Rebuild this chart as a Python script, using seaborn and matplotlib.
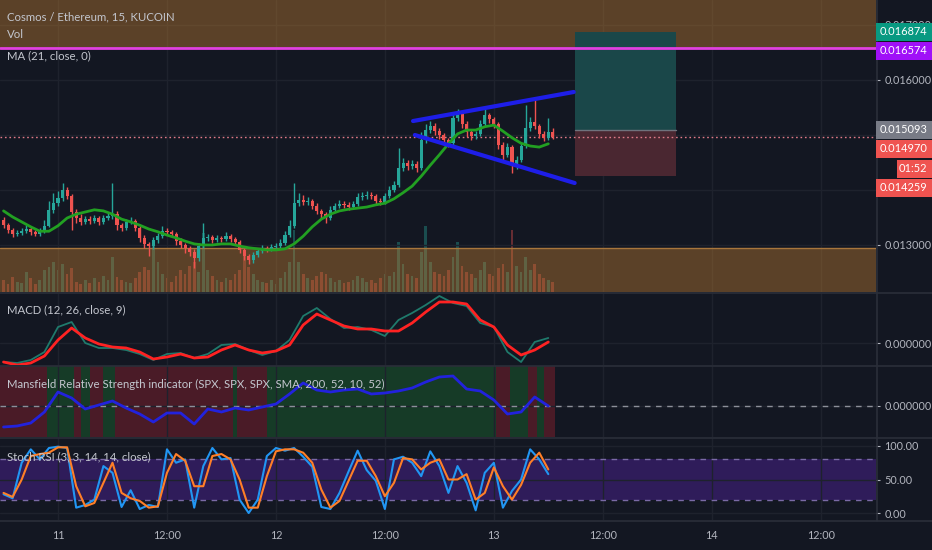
import numpy as np
import matplotlib
matplotlib.use("Agg")
import matplotlib.pyplot as plt
import seaborn as sns
from matplotlib.patches import Rectangle
from matplotlib.lines import Line2D
from matplotlib.ticker import FormatStrFormatter

# ---- data ------------------------------------------------------------
# hours are counted from 11 Jan 00:00, one candle every 30 min
first_open = 0.01345
closes = [0.01336, 0.01327, 0.01320, 0.01322, 0.01325, 0.01329, 0.01324, 0.01320, 0.01325, 0.01335,
          0.01364, 0.01376, 0.01385, 0.01400, 0.01389, 0.01360, 0.01349, 0.01342, 0.01347, 0.01344,
          0.01349, 0.01342, 0.01349, 0.01353, 0.01356, 0.01336, 0.01331, 0.01342, 0.01344, 0.01331,
          0.01313, 0.01302, 0.01298, 0.01309, 0.01316, 0.01325, 0.01324, 0.01320, 0.01307, 0.01300,
          0.01295, 0.01287, 0.01276, 0.01298, 0.01313, 0.01314, 0.01309, 0.01313, 0.01311, 0.01316,
          0.01311, 0.01305, 0.01291, 0.01280, 0.01273, 0.01282, 0.01289, 0.01295, 0.01293, 0.01296,
          0.01298, 0.01304, 0.01318, 0.01335, 0.01376, 0.01382, 0.01378, 0.01380, 0.01371, 0.01362,
          0.01356, 0.01349, 0.01364, 0.01371, 0.01375, 0.01373, 0.01369, 0.01375, 0.01387, 0.01389,
          0.01391, 0.01389, 0.01380, 0.01378, 0.01389, 0.01400, 0.01409, 0.01440, 0.01449, 0.01444,
          0.01447, 0.01440, 0.01491, 0.01509, 0.01516, 0.01507, 0.01500, 0.01491, 0.01485, 0.01531,
          0.01538, 0.01520, 0.01505, 0.01498, 0.01502, 0.01520, 0.01536, 0.01529, 0.01520, 0.01482,
          0.01464, 0.01478, 0.01445, 0.01455, 0.01480, 0.01513, 0.01524, 0.01516, 0.01502, 0.01494,
          0.01505, 0.01497]
highs = [0.01350, 0.01340, 0.01330, 0.01327, 0.01330, 0.01336, 0.01332, 0.01328, 0.01331, 0.01345,
         0.01380, 0.01395, 0.01398, 0.01412, 0.01405, 0.01393, 0.01365, 0.01356, 0.01352, 0.01353,
         0.01354, 0.01353, 0.01355, 0.01358, 0.01412, 0.01362, 0.01340, 0.01347, 0.01350, 0.01348,
         0.01335, 0.01318, 0.01306, 0.01314, 0.01322, 0.01334, 0.01330, 0.01328, 0.01324, 0.01312,
         0.01304, 0.01299, 0.01292, 0.01304, 0.01340, 0.01320, 0.01318, 0.01318, 0.01317, 0.01324,
         0.01320, 0.01315, 0.01309, 0.01295, 0.01284, 0.01287, 0.01294, 0.01300, 0.01299, 0.01301,
         0.01303, 0.01310, 0.01325, 0.01345, 0.01412, 0.01395, 0.01390, 0.01388, 0.01384, 0.01376,
         0.01366, 0.01360, 0.01370, 0.01377, 0.01381, 0.01380, 0.01378, 0.01380, 0.01394, 0.01396,
         0.01398, 0.01396, 0.01393, 0.01385, 0.01395, 0.01407, 0.01416, 0.01476, 0.01458, 0.01455,
         0.01454, 0.01452, 0.01505, 0.01520, 0.01525, 0.01522, 0.01512, 0.01504, 0.01495, 0.01540,
         0.01547, 0.01542, 0.01525, 0.01510, 0.01508, 0.01527, 0.01547, 0.01540, 0.01533, 0.01524,
         0.01487, 0.01485, 0.01482, 0.01462, 0.01486, 0.01555, 0.01533, 0.01567, 0.01520, 0.01508,
         0.01530, 0.01512]
lows = [0.01330, 0.01322, 0.01315, 0.01316, 0.01318, 0.01322, 0.01319, 0.01316, 0.01317, 0.01322,
        0.01332, 0.01358, 0.01370, 0.01380, 0.01384, 0.01327, 0.01340, 0.01336, 0.01338, 0.01338,
        0.01340, 0.01336, 0.01338, 0.01345, 0.01348, 0.01327, 0.01325, 0.01328, 0.01338, 0.01326,
        0.01305, 0.01295, 0.01280, 0.01293, 0.01304, 0.01312, 0.01318, 0.01314, 0.01300, 0.01294,
        0.01285, 0.01280, 0.01258, 0.01270, 0.01294, 0.01307, 0.01304, 0.01305, 0.01306, 0.01307,
        0.01306, 0.01300, 0.01285, 0.01273, 0.01265, 0.01268, 0.01278, 0.01285, 0.01288, 0.01289,
        0.01292, 0.01294, 0.01300, 0.01314, 0.01330, 0.01370, 0.01372, 0.01373, 0.01365, 0.01356,
        0.01349, 0.01340, 0.01345, 0.01360, 0.01367, 0.01368, 0.01364, 0.01365, 0.01371, 0.01382,
        0.01384, 0.01383, 0.01374, 0.01372, 0.01374, 0.01385, 0.01396, 0.01405, 0.01434, 0.01436,
        0.01438, 0.01432, 0.01436, 0.01485, 0.01503, 0.01500, 0.01493, 0.01482, 0.01478, 0.01480,
        0.01525, 0.01512, 0.01496, 0.01490, 0.01492, 0.01498, 0.01515, 0.01522, 0.01512, 0.01475,
        0.01455, 0.01460, 0.01430, 0.01438, 0.01450, 0.01476, 0.01508, 0.01510, 0.01495, 0.01489,
        0.01490, 0.01492]
volume = [12, 8, 15, 10, 9, 20, 14, 8, 12, 22,
          25, 30, 22, 28, 18, 24, 10, 8, 12, 9,
          14, 10, 16, 12, 35, 15, 12, 10, 9, 14,
          20, 25, 22, 49, 30, 18, 14, 10, 16, 22,
          18, 26, 30, 20, 59, 22, 16, 12, 10, 14,
          12, 18, 22, 36, 25, 18, 12, 10, 9, 12,
          8, 14, 20, 30, 62, 30, 18, 14, 12, 16,
          20, 18, 14, 10, 12, 9, 10, 12, 16, 14,
          10, 12, 9, 14, 18, 16, 20, 50, 28, 18,
          16, 14, 40, 66, 30, 20, 18, 16, 22, 35,
          50, 26, 20, 18, 14, 22, 30, 18, 16, 24,
          28, 20, 62, 26, 20, 35, 22, 28, 18, 14,
          12, 10]

# MA(21) and Stoch RSI sampled every hour
ma21 = [0.01362, 0.01351, 0.01342, 0.01333, 0.01325, 0.01325, 0.01335, 0.01349, 0.01356, 0.01360,
        0.01364, 0.01362, 0.01356, 0.01347, 0.01342, 0.01336, 0.01329, 0.01324, 0.01318, 0.01313,
        0.01307, 0.01302, 0.01300, 0.01300, 0.01302, 0.01302, 0.01298, 0.01295, 0.01293, 0.01291,
        0.01291, 0.01293, 0.01302, 0.01316, 0.01333, 0.01347, 0.01356, 0.01362, 0.01365, 0.01367,
        0.01369, 0.01373, 0.01376, 0.01384, 0.01395, 0.01407, 0.01425, 0.01445, 0.01464, 0.01484,
        0.01502, 0.01509, 0.01509, 0.01515, 0.01518, 0.01507, 0.01495, 0.01485, 0.01480, 0.01478,
        0.01484]
stoch_k = [28, 22, 75, 95, 80, 97, 99, 97, 8, 12, 20, 70, 60, 9, 34, 6, 12, 9, 95, 75,
           80, 8, 70, 97, 80, 82, 20, 0, 20, 85, 97, 93, 97, 84, 69, 9, 6, 30, 62, 93,
           64, 48, 6, 80, 84, 75, 55, 92, 70, 30, 70, 45, 4, 60, 75, 8, 33, 50, 95, 80, 58]
stoch_d = [30, 24, 50, 85, 88, 90, 98, 98, 40, 10, 15, 45, 75, 30, 22, 18, 8, 10, 60, 88,
           78, 40, 40, 85, 88, 80, 50, 8, 8, 55, 92, 95, 95, 90, 75, 35, 8, 18, 48, 78,
           78, 55, 25, 45, 82, 80, 65, 75, 80, 50, 50, 58, 20, 30, 68, 40, 20, 42, 75, 90, 65]

# MACD and Mansfield RS sampled every 1.5 hours
macd_line = [-38e-6, -40e-6, -34e-6, -18e-6, 32e-6, 42e-6, 0e-6, -10e-6, -10e-6, -14e-6,
             -22e-6, -34e-6, -22e-6, -20e-6, -30e-6, -22e-6, -4e-6, -2e-6, -14e-6, -24e-6,
             -16e-6, 6e-6, 54e-6, 70e-6, 48e-6, 30e-6, 32e-6, 26e-6, 14e-6, 46e-6,
             60e-6, 76e-6, 94e-6, 80e-6, 74e-6, 40e-6, 32e-6, -18e-6, -38e-6, 2e-6, 10e-6]
macd_signal = [-38e-6, -44e-6, -40e-6, -26e-6, 6e-6, 30e-6, 10e-6, -2e-6, -8e-6, -10e-6,
               -18e-6, -32e-6, -28e-6, -22e-6, -30e-6, -28e-6, -14e-6, -4e-6, -14e-6, -20e-6,
               -16e-6, -4e-6, 36e-6, 58e-6, 46e-6, 34e-6, 28e-6, 28e-6, 24e-6, 24e-6,
               40e-6, 62e-6, 82e-6, 82e-6, 78e-6, 46e-6, 32e-6, -4e-6, -24e-6, -14e-6, 2e-6]
mansfield_rs = [-2.1, -2.0, -1.7, -0.6, 1.4, 0.8, -0.3, 0.1, 0.5, -0.2,
                -0.8, -1.6, -0.7, -0.7, -1.8, -0.3, -0.6, -0.2, -0.4, -0.1,
                0.2, 1.2, 2.3, 1.6, 1.4, 1.6, 1.7, 1.2, 1.3, 1.5,
                1.8, 2.4, 2.9, 3.0, 1.7, 1.5, 0.6, -0.8, -0.6, 0.9, 0.0]
# background regime of the Mansfield pane (hour edges, first band is red)
rs_band_edges = [-6.4, -1.25, 1.75, 2.5, 3.5, 5.0, 6.25, 19.25, 19.75, 23.0,
                 48.25, 49.75, 51.75, 52.75, 53.5, 54.75]

# drawings on the price pane
trend_upper_t, trend_upper_p = [39.1, 56.8], [0.015254, 0.015782]
trend_lower_t, trend_lower_p = [39.3, 56.9], [0.015000, 0.014127]
resistance_level = 0.016574
support_top = 0.012945
pos_start, pos_end = 56.9, 68.1
pos_target, pos_entry, pos_stop = 0.016874, 0.015093, 0.014259
countdown = "01:52"

price_ticks = [0.013, 0.014, 0.015, 0.016, 0.017]
time_ticks = [0, 12, 24, 36, 48, 60, 72, 84]
time_labels = ["11", "12:00", "12", "12:00", "13", "12:00", "14", "12:00"]

# ---- style -------------------------------------------------------------
sns.set_theme(style="dark")
plt.rcParams["font.family"] = ["Lato", "DejaVu Sans"]

BG = "#131722"
TXT = "#b2b5be"
GRID = "#1e222d"
SEP = "#2a2e39"
UP = "#26a69a"
DOWN = "#ef5350"

W, H = 932, 550
XLIM = (-6.39, 90.09)

closes = np.array(closes)
opens = np.r_[first_open, closes[:-1]]
t_candle = -6.0 + 0.5 * np.arange(len(closes))
t_hour = -6.0 + 1.0 * np.arange(len(ma21))
t_slow = -6.0 + 1.5 * np.arange(len(macd_line))
is_up = closes >= opens

fig = plt.figure(figsize=(W / 100, H / 100), dpi=100, facecolor=BG)


def pane(y0, y1, label):
    # rect from pixel rows (top-down)
    return fig.add_axes([0, 1 - y1 / H, 876 / W, (y1 - y0) / H], label=label)


def style(ax, yticks, fmt):
    ax.set_xlim(*XLIM)
    ax.set_xticks(time_ticks)
    ax.set_xticklabels([])
    ax.set_yticks(yticks)
    ax.yaxis.set_major_formatter(FormatStrFormatter(fmt))
    ax.yaxis.tick_right()
    ax.tick_params(axis="y", colors=TXT, labelcolor=TXT, labelsize=7.8,
                   length=3, width=0.8, pad=3, direction="out")
    ax.tick_params(axis="x", length=0)
    ax.grid(True, color=GRID, lw=1)
    ax.set_axisbelow(True)
    for s in ax.spines.values():
        s.set_visible(False)


# ---- price pane ----------------------------------------------------------
vax = pane(0, 292, "volume")
vax.set_facecolor(BG)
vax.set_xlim(*XLIM)
vax.set_ylim(0, 292)
vax.axis("off")
vax.bar(t_candle, volume, width=0.3, color=np.where(is_up, UP, DOWN), alpha=0.38, lw=0)

ax = pane(0, 292, "price")
ax.set_facecolor("none")
ax.set_zorder(2)
style(ax, price_ticks, "%.6f")
# the 0.014 / 0.015 labels sit under the price tags anyway
ax.set_yticklabels(["0.013000", "", "", "0.016000", "0.017000"])
ax.set_ylim(0.0121454, 0.0174545)

ax.axhspan(resistance_level, 0.018, color="#c88232", alpha=0.40, lw=0, zorder=0.7)
ax.axhspan(0.011, support_top, color="#c88232", alpha=0.40, lw=0, zorder=0.7)
ax.axhline(support_top, color="#a8763c", lw=1, zorder=0.8)
ax.axhline(resistance_level, color="#e040e0", lw=2, zorder=3)

ax.add_patch(Rectangle((pos_start, pos_entry), pos_end - pos_start, pos_target - pos_entry,
                       color="#1a4749", lw=0, zorder=1))
ax.add_patch(Rectangle((pos_start, pos_stop), pos_end - pos_start, pos_entry - pos_stop,
                       color="#4a2731", lw=0, zorder=1))
ax.plot([pos_start, pos_end], [pos_entry, pos_entry], color="#6f727c", lw=1, zorder=1.2)

ax.axhline(closes[-1], color="#e07a88", lw=1, ls=(0, (1.2, 2)), zorder=2)

ax.vlines(t_candle, lows, highs, colors=np.where(is_up, UP, DOWN), lw=1, zorder=4)
ax.bar(t_candle, np.maximum(np.abs(closes - opens), 0.000006), bottom=np.minimum(opens, closes),
       width=0.34, color=np.where(is_up, UP, DOWN), lw=0, zorder=4)
sns.lineplot(x=t_hour, y=ma21, ax=ax, color="#22a022", lw=2, zorder=5)

sns.lineplot(x=trend_upper_t, y=trend_upper_p, ax=ax, color="#1e1ee8", lw=3, zorder=6)
sns.lineplot(x=trend_lower_t, y=trend_lower_p, ax=ax, color="#1e1ee8", lw=3, zorder=6)

# ---- MACD pane -------------------------------------------------------------
mac = pane(293, 365, "macd")
mac.set_facecolor(BG)
style(mac, [0.0], "%.6f")
mac.set_ylim(-44e-6, 100e-6)
sns.lineplot(x=t_slow, y=macd_line, ax=mac, color="#1f7a6c", lw=1.3)
sns.lineplot(x=t_slow, y=macd_signal, ax=mac, color="#ff2222", lw=2)

# ---- Mansfield RS pane --------------------------------------------------------
rs = pane(366, 437, "rs")
rs.set_facecolor(BG)
style(rs, [0.0], "%.6f")
rs.set_ylim(-3.1, 4.0)
for i in range(len(rs_band_edges) - 1):
    rs.axvspan(rs_band_edges[i], rs_band_edges[i + 1], lw=0, zorder=0.5,
               color="#4a1b27" if i % 2 == 0 else "#163b27")
rs.axhline(0, color="#8c8f99", lw=1, ls=(0, (4, 4)), zorder=1)
sns.lineplot(x=t_slow, y=mansfield_rs, ax=rs, color="#2222dd", lw=2, zorder=3)

# ---- Stoch RSI pane -----------------------------------------------------------
st = pane(438, 520, "stoch")
st.set_facecolor(BG)
style(st, [0, 50, 100], "%.2f")
st.set_ylim(-10.4, 111.9)
st.axhspan(20, 80, color="#2f1c5a", lw=0, zorder=0.5)
for lvl in (20, 80):
    st.axhline(lvl, color="#7a6aa6", lw=1, ls=(0, (4, 4)), zorder=1)
sns.lineplot(x=t_hour, y=stoch_k, ax=st, color="#2196f3", lw=1.5, zorder=3)
sns.lineplot(x=t_hour, y=stoch_d, ax=st, color="#ff7f27", lw=1.5, zorder=3)
st.set_xticklabels(time_labels)
st.tick_params(axis="x", colors=TXT, labelcolor=TXT, labelsize=7.8, pad=7)

for a in (ax, mac, rs, st):
    a.set_xlabel("")
    a.set_ylabel("")
    leg = a.get_legend()
    if leg:
        leg.remove()

# ---- separators ---------------------------------------------------------------
for yp in (292.5, 365.5, 437.5, 520.5):
    fig.add_artist(Line2D([0, 1], [1 - yp / H] * 2, color=SEP, lw=1.2, zorder=10))
fig.add_artist(Line2D([876.5 / W] * 2, [1 - 520.5 / H, 1], color=SEP, lw=1.2, zorder=10))

# ---- price tags on the right axis -----------------------------------------------
tags = [("%.6f" % pos_target, pos_target, "#089981"),
        ("%.6f" % resistance_level, resistance_level, "#a010f8"),
        ("%.6f" % pos_entry, pos_entry, "#787b86"),
        ("%.6f" % closes[-1], closes[-1], "#ef5350"),
        (countdown, None, "#ef5350"),
        ("%.6f" % pos_stop, pos_stop, "#ef5350")]
prev = -100
for text, price, col in tags:
    if price is None:
        ypix = prev + 20
        x0 = 897
    else:
        ypix = H - ax.transData.transform((0, price))[1]
        ypix = max(ypix, prev + 19)
        x0 = 876
    prev = ypix
    fig.add_artist(Rectangle((x0 / W, 1 - (ypix + 9) / H), (W - x0) / W, 18 / H,
                             transform=fig.transFigure, color=col, lw=0, zorder=11))
    fig.text((W - 5) / W, 1 - ypix / H, text, color="white", fontsize=7.9,
             ha="right", va="center", zorder=12)

# ---- pane titles --------------------------------------------------------------
titles = [(17, "Cosmos / Ethereum, 15, KUCOIN"), (35, "Vol"), (56, "MA (21, close, 0)"),
          (310, "MACD (12, 26, close, 9)"),
          (384, "Mansfield Relative Strength indicator (SPX, SPX, SPX, SMA, 200, 52, 10, 52)"),
          (457, "Stoch RSI (3, 3, 14, 14, close)")]
for yp, text in titles:
    fig.text(7 / W, 1 - yp / H, text, color="#c3c6ce", fontsize=8.2, ha="left", va="center", zorder=12)

plt.savefig("out.png", dpi=100, facecolor=BG)
plt.close()
